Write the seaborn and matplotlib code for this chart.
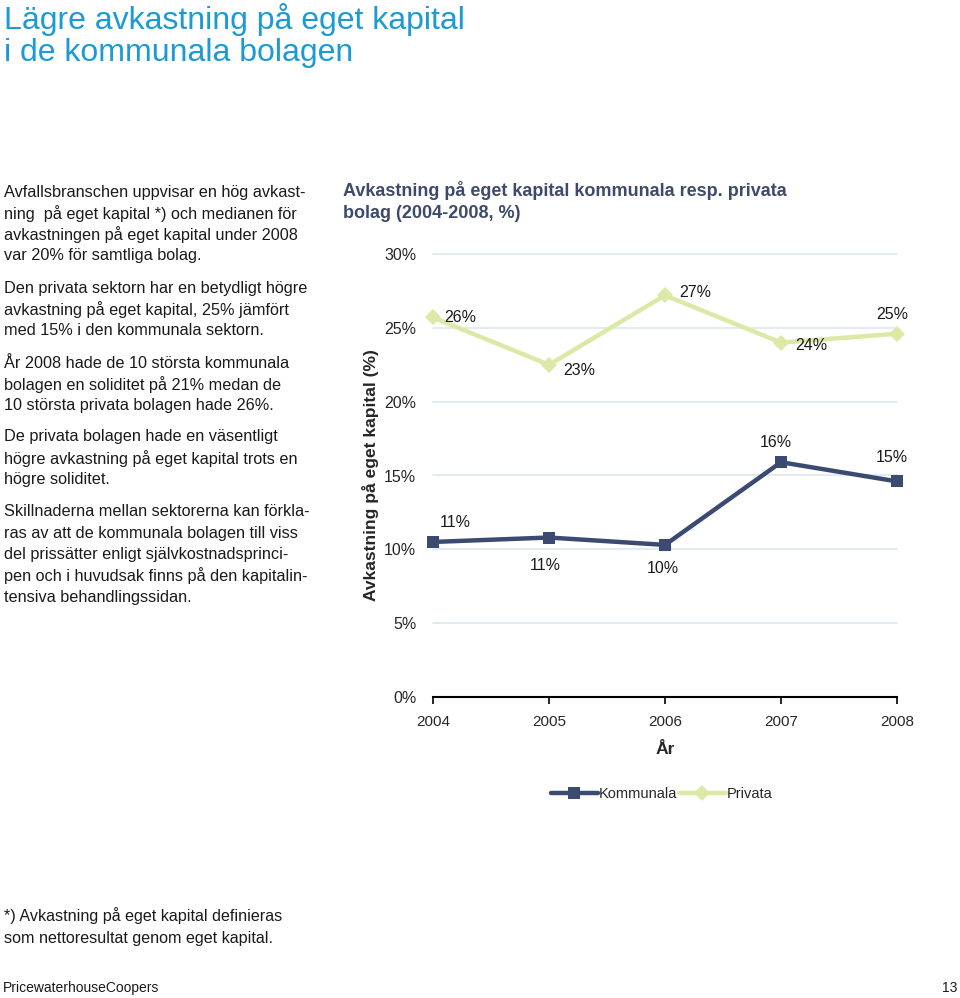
import matplotlib

matplotlib.use("Agg")
import matplotlib.pyplot as plt
import pandas as pd
import seaborn as sns

# values
years = [2004, 2005, 2006, 2007, 2008]
kommunala = [10.5, 10.8, 10.3, 15.9, 14.6]
privata = [25.7, 22.5, 27.2, 24.0, 24.6]
kommunala_labels = ["11%", "11%", "10%", "16%", "15%"]
privata_labels = ["26%", "23%", "27%", "24%", "25%"]
y_ticks = [0, 5, 10, 15, 20, 25, 30]

title_lines = ["Lägre avkastning på eget kapital", "i de kommunala bolagen"]
paragraphs = [
    ["Avfallsbranschen uppvisar en hög avkast-",
     "ning  på eget kapital *) och medianen för",
     "avkastningen på eget kapital under 2008",
     "var 20% för samtliga bolag."],
    ["Den privata sektorn har en betydligt högre",
     "avkastning på eget kapital, 25% jämfört",
     "med 15% i den kommunala sektorn."],
    ["År 2008 hade de 10 största kommunala",
     "bolagen en soliditet på 21% medan de",
     "10 största privata bolagen hade 26%."],
    ["De privata bolagen hade en väsentligt",
     "högre avkastning på eget kapital trots en",
     "högre soliditet."],
    ["Skillnaderna mellan sektorerna kan förkla-",
     "ras av att de kommunala bolagen till viss",
     "del prissätter enligt självkostnadsprinci-",
     "pen och i huvudsak finns på den kapitalin-",
     "tensiva behandlingssidan."],
]
footnote = ["*) Avkastning på eget kapital definieras",
            "som nettoresultat genom eget kapital."]

KOM = "#3b4a70"
PRIV = "#dbe8a6"
GRID = "#dce7f2"

sns.set_theme(style="white")
plt.rcParams["font.family"] = ["Liberation Sans", "DejaVu Sans"]

df = pd.concat([
    pd.DataFrame({"year": years, "value": kommunala, "serie": "Kommunala"}),
    pd.DataFrame({"year": years, "value": privata, "serie": "Privata"}),
])

W, H = 960, 998
fig = plt.figure(figsize=(W / 100, H / 100), dpi=100)
fig.patch.set_facecolor("white")


def px(x, y):
    return x / W, 1 - y / H


# page title and body text
for i, line in enumerate(title_lines):
    fig.text(*px(4, 19 + i * 34), line, fontsize=23, color="#1b9ad6", va="center", ha="left")

starts = [192, 288, 363, 437, 512]
for start, para in zip(starts, paragraphs):
    for j, line in enumerate(para):
        fig.text(*px(4, start + j * 21.3), line, fontsize=11.7, color="#1a1a1a", va="center", ha="left")

for j, line in enumerate(footnote):
    fig.text(*px(4, 916 + j * 23), line, fontsize=11.6, color="#1a1a1a", va="center", ha="left")
fig.text(*px(3, 988), "PricewaterhouseCoopers", fontsize=10, color="#1a1a1a", va="center", ha="left")
fig.text(*px(957, 988), "13", fontsize=10, color="#1a1a1a", va="center", ha="right")

fig.text(*px(343, 190), "Avkastning på eget kapital kommunala resp. privata", fontsize=13,
         fontweight="bold", color="#3d4a6b", va="center", ha="left")
fig.text(*px(343, 213), "bolag (2004-2008, %)", fontsize=13,
         fontweight="bold", color="#3d4a6b", va="center", ha="left")

# chart axes
left, right, top, bottom = 433, 897, 254, 697
ax = fig.add_axes([left / W, 1 - bottom / H, (right - left) / W, (bottom - top) / H])
ax.set_facecolor("white")

sns.lineplot(data=df, x="year", y="value", hue="serie", style="serie",
             palette={"Kommunala": KOM, "Privata": PRIV},
             markers={"Kommunala": "s", "Privata": "D"}, dashes=False,
             linewidth=3.2, markersize=8, markeredgewidth=0, ax=ax, zorder=3)

ax.set_xlim(years[0], years[-1])
ax.set_ylim(0, 30)
ax.set_yticks(y_ticks)
ax.set_yticklabels([f"{t}%" for t in y_ticks], fontsize=11.5)
ax.set_xticks(years)
ax.set_xticklabels([str(y) for y in years], fontsize=11)
ax.tick_params(axis="y", length=0, pad=12)
ax.tick_params(axis="x", length=5, width=1.2, color="black", direction="out", pad=8, bottom=True)
for t in y_ticks[1:]:
    ax.axhline(t, color=GRID, lw=1.2, zorder=1)
for s in ["top", "right", "left"]:
    ax.spines[s].set_visible(False)
ax.spines["bottom"].set_color("black")
ax.spines["bottom"].set_linewidth(1.5)
ax.spines["bottom"].set_zorder(4)
for line in ax.lines:
    line.set_clip_on(False)

ax.set_xlabel("År", fontsize=12.5, fontweight="bold", labelpad=9)
ax.set_ylabel("Avkastning på eget kapital (%)", fontsize=12.5, fontweight="bold", labelpad=4)

# data labels
priv_off = [(8, 0), (10, -4), (10, 2), (10, -2), (-15, 14)]
kom_off = [(5, 14), (-14, -20), (-13, -17), (-15, 14), (-15, 17)]
for x, y, lab, off in zip(years, privata, privata_labels, priv_off):
    ax.annotate(lab, (x, y), xytext=off, textcoords="offset points", fontsize=11.5,
                ha="left", va="center", color="#1a1a1a")
for x, y, lab, off in zip(years, kommunala, kommunala_labels, kom_off):
    ax.annotate(lab, (x, y), xytext=off, textcoords="offset points", fontsize=11.5,
                ha="left", va="center", color="#1a1a1a")

leg = ax.legend(loc="center", bbox_to_anchor=((662 - left) / (right - left), -(794 - bottom) / (bottom - top)),
                ncol=2, frameon=False, fontsize=10.5, handlelength=3.2, handletextpad=0.1,
                columnspacing=0.1, title=None)
for h in leg.legend_handles:
    h.set_linewidth(3.2)

fig.savefig("out.png", dpi=100, facecolor="white")
